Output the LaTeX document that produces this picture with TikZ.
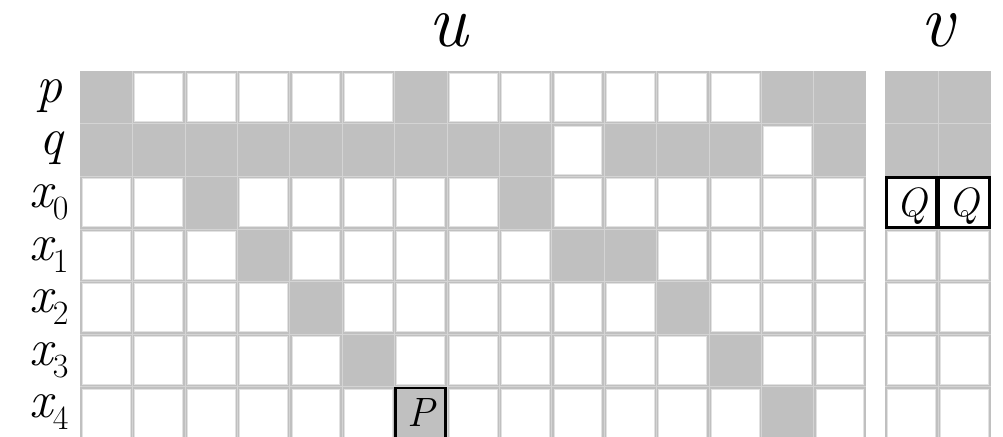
\documentclass[tikz,border=0pt]{standalone}
\usepackage{fontspec}
\definecolor{cellgray}{HTML}{C0C0C0}
\definecolor{seam}{HTML}{D4D4D4}
\definecolor{rim}{HTML}{E2E2E2}
\tikzset{
  whitecell/.style={fill=white,draw=rim,line width=0.6pt},
  seamline/.style={draw=seam,line width=0.6pt},
  rowlab/.style={anchor=base,inner sep=0pt,font=\fontsize{52}{60}\selectfont\itshape},
  collab/.style={anchor=base,inner sep=0pt,font=\fontsize{75}{80}\selectfont\itshape},
  markbox/.style={draw=black,line width=2.6pt,inner sep=0pt,
    text height=27pt,text depth=0pt,
    font=\fontsize{41}{48}\selectfont\itshape},
}
\newcommand{\sublab}[1]{\raisebox{-12pt}{\fontsize{34}{40}\selectfont\upshape #1}}
\begin{document}
\begin{tikzpicture}[x=1pt,y=-1pt]
\useasboundingbox (0,0) rectangle (1003,436);
\clip (0,0) rectangle (1003,436);
% grid geometry: u block (15 columns) and v block (2 columns), 7 rows
\def\ux{80}\def\cw{52.4}\def\ty{71}\def\rh{52.6}\def\vx{885}\def\vw{52.8}
% gray base of both blocks
\fill[cellgray] (\ux,\ty) rectangle ({\ux+15*\cw},{\ty+7*\rh});
\fill[cellgray] (\vx,\ty) rectangle ({\vx+2*\vw},{\ty+7*\rh});
% white cells everywhere
\foreach \r in {0,...,6}{
  \foreach \c in {0,...,14}
    \draw[whitecell] ({\ux+\c*\cw+2.3},{\ty+\r*\rh+2.3}) rectangle +({\cw-4.6},{\rh-4.6});
  \foreach \c in {0,1}
    \draw[whitecell] ({\vx+\c*\vw+2.3},{\ty+\r*\rh+2.3}) rectangle +({\vw-4.6},{\rh-4.6});
}
% shaded cells of the u block, per row
\foreach \r/\cols in {0/{0,6,13,14},
                      1/{0,1,2,3,4,5,6,7,8,10,11,12,14},
                      2/{2,8},
                      3/{3,9,10},
                      4/{4,11},
                      5/{5,12},
                      6/{6,13}}{
  \foreach \c in \cols
    \fill[cellgray] ({\ux+\c*\cw},{\ty+\r*\rh}) rectangle +(\cw,\rh);
}
% shaded cells of the v block
\foreach \r in {0,1}
  \foreach \c in {0,1}
    \fill[cellgray] ({\vx+\c*\vw},{\ty+\r*\rh}) rectangle +(\vw,\rh);
% faint seams between cells
\foreach \c in {1,...,14}
  \draw[seamline] ({\ux+\c*\cw},\ty) -- ({\ux+\c*\cw},{\ty+7*\rh});
\foreach \r in {1,...,6}{
  \draw[seamline] (\ux,{\ty+\r*\rh}) -- ({\ux+15*\cw},{\ty+\r*\rh});
  \draw[seamline] (\vx,{\ty+\r*\rh}) -- ({\vx+2*\vw},{\ty+\r*\rh});
}
\draw[seamline] ({\vx+\vw},\ty) -- ({\vx+\vw},{\ty+7*\rh});
% marked cells
\node[markbox,fill=cellgray,minimum width={\cw-2.6},minimum height={\rh-2.6}]
  (P) at ({\ux+6.5*\cw},{\ty+6.5*\rh}) {P};
\node[markbox,fill=white,minimum width={\vw-2.6},minimum height={\rh-2.6}]
  (Q1) at ({\vx+0.5*\vw},{\ty+2.5*\rh}) {Q};
\node[markbox,fill=white,minimum width={\vw-2.6},minimum height={\rh-2.6}]
  (Q2) at ({\vx+1.5*\vw},{\ty+2.5*\rh}) {Q};
% column block labels
\node[collab] (u) at (448,47) {u};
\node[collab] (v) at (937.5,47) {v};
% row labels
\node[rowlab] (lp)  at (49,{\ty+0.5*\rh+5}) {p};
\node[rowlab] (lq)  at (51,{\ty+1.5*\rh+5}) {q};
\node[rowlab] (lx0) at (49,{\ty+2.5*\rh+5}) {x\sublab{0}};
\node[rowlab] (lx1) at (49,{\ty+3.5*\rh+5}) {x\sublab{1}};
\node[rowlab] (lx2) at (49,{\ty+4.5*\rh+5}) {x\sublab{2}};
\node[rowlab] (lx3) at (49,{\ty+5.5*\rh+5}) {x\sublab{3}};
\node[rowlab] (lx4) at (49,{\ty+6.5*\rh+5}) {x\sublab{4}};
\end{tikzpicture}
\end{document}
